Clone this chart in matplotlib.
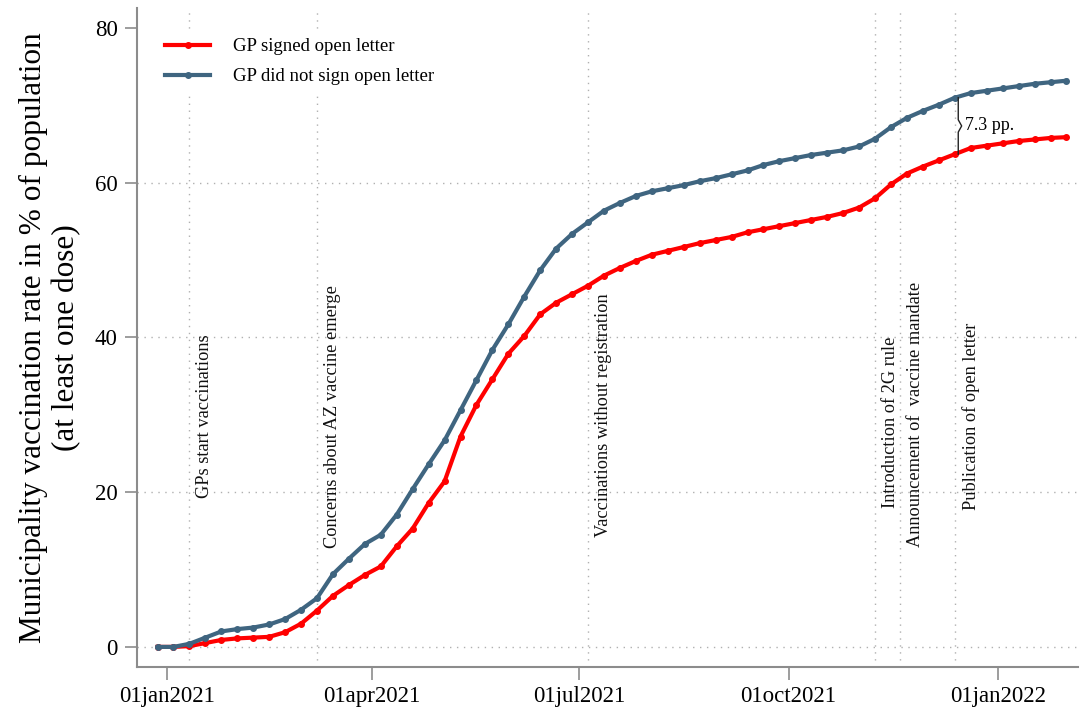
import numpy as np
import pandas as pd
import matplotlib
matplotlib.use("Agg")
import matplotlib.pyplot as plt

plt.rcParams['font.family'] = ['Liberation Serif', 'DejaVu Serif']

# Weekly municipality vaccination rates (% of population, at least one dose)
weeks = pd.date_range('2020-12-28', periods=58, freq='7D')
signed = [0.0, 0.0, 0.1, 0.5, 0.9, 1.1, 1.2, 1.3, 1.9, 3.0,
          4.7, 6.6, 8.0, 9.3, 10.4, 13.0, 15.3, 18.6, 21.4, 27.2,
          31.3, 34.6, 37.9, 40.2, 43.0, 44.5, 45.6, 46.7, 48.0, 49.0,
          49.9, 50.7, 51.2, 51.7, 52.2, 52.6, 53.0, 53.6, 54.0, 54.4,
          54.8, 55.2, 55.6, 56.1, 56.8, 58.0, 59.8, 61.2, 62.1, 62.9,
          63.7, 64.5, 64.8, 65.1, 65.4, 65.6, 65.8, 65.9]
not_signed = [0.0, 0.0, 0.4, 1.2, 2.0, 2.3, 2.5, 2.9, 3.6, 4.8,
              6.3, 9.4, 11.4, 13.3, 14.5, 17.1, 20.4, 23.6, 26.7, 30.6,
              34.5, 38.4, 41.7, 45.3, 48.7, 51.5, 53.4, 54.9, 56.4, 57.4,
              58.3, 58.9, 59.3, 59.7, 60.2, 60.6, 61.1, 61.6, 62.3, 62.8,
              63.2, 63.6, 63.9, 64.2, 64.7, 65.7, 67.2, 68.4, 69.3, 70.1,
              71.0, 71.6, 71.9, 72.2, 72.5, 72.8, 73.0, 73.2]

# Events (vertical lines) and where their labels start
event_dates = pd.to_datetime(['2021-01-11', '2021-03-08', '2021-07-05',
                              '2021-11-08', '2021-11-19', '2021-12-13'])
event_labels = ['GPs start vaccinations', 'Concerns about AZ vaccine emerge',
                'Vaccinations without registration', 'Introduction of 2G rule',
                'Announcement of  vaccine mandate', 'Publication of open letter']
event_label_y = [19.2, 12.8, 14.2, 18.0, 12.9, 17.7]

# Gap annotation at publication of open letter
gap_idx = 50
gap_text = '7.3 pp.'

xtick_dates = pd.to_datetime(['2021-01-01', '2021-04-01', '2021-07-01',
                              '2021-10-01', '2022-01-01'])
xtick_labels = ['01jan2021', '01apr2021', '01jul2021', '01oct2021', '01jan2022']
yticks = [0, 20, 40, 60, 80]

red = '#ff0000'
blue = '#3f6580'
axcol = '#8c8c8c'

fig = plt.figure(figsize=(10.8, 7.13), dpi=100)
ax = fig.add_axes([0.1269, 0.0645, 0.8711, 0.9243])

# grid lines (dotted)
for y in yticks[:-1]:
    ax.axhline(y, color='#b0b0b0', lw=1, ls=(0, (1, 4)), zorder=1)
for d in event_dates:
    ax.axvline(d, color='#b0b0b0', lw=1, ls=(0, (1, 4)), zorder=1)

ax.plot(weeks, signed, color=red, lw=3, marker='o', ms=4, label='GP signed open letter', zorder=3)
ax.plot(weeks, not_signed, color=blue, lw=3, marker='o', ms=4, label='GP did not sign open letter', zorder=3)

for d, lab, y in zip(event_dates, event_labels, event_label_y):
    ax.annotate(lab, xy=(d, y), xytext=(5, 0), textcoords='offset points',
                rotation=90, ha='left', va='bottom', fontsize=13.2, color='#111111')

# curly-ish brace showing the gap
gx = weeks[gap_idx] + pd.Timedelta(days=1.5)
y_lo, y_hi = signed[gap_idx], not_signed[gap_idx]
y_mid = (y_lo + y_hi) / 2
ax.plot([gx, gx, gx + pd.Timedelta(days=1.5), gx, gx],
        [y_lo, y_mid - 0.8, y_mid, y_mid + 0.8, y_hi], color='#222222', lw=1, zorder=4)
ax.annotate(gap_text, xy=(gx, y_mid), xytext=(5, 0), textcoords='offset points',
            ha='left', va='center', fontsize=13)

ax.set_xlim(pd.Timestamp('2020-12-19'), pd.Timestamp('2022-02-05'))
ax.set_ylim(-2.6, 82.6)
ax.set_xticks(xtick_dates)
ax.set_xticklabels(xtick_labels)
ax.set_yticks(yticks)
ax.tick_params(axis='both', labelsize=16.5, length=9, width=1.2, color=axcol, pad=5)

for s in ['top', 'right']:
    ax.spines[s].set_visible(False)
for s in ['left', 'bottom']:
    ax.spines[s].set_color(axcol)
    ax.spines[s].set_linewidth(1.5)

ax.set_ylabel('Municipality vaccination rate in % of population\n(at least one dose)',
              fontsize=22.5, labelpad=10, linespacing=1.15)

leg = ax.legend(loc='upper left', bbox_to_anchor=(0.012, 0.98), frameon=True,
                fontsize=13.5, handlelength=2.4, handletextpad=1.2, labelspacing=0.7)
leg.get_frame().set_edgecolor('none')
leg.get_frame().set_facecolor('white')
leg.get_frame().set_alpha(1)

fig.savefig('out.png', dpi=100)
